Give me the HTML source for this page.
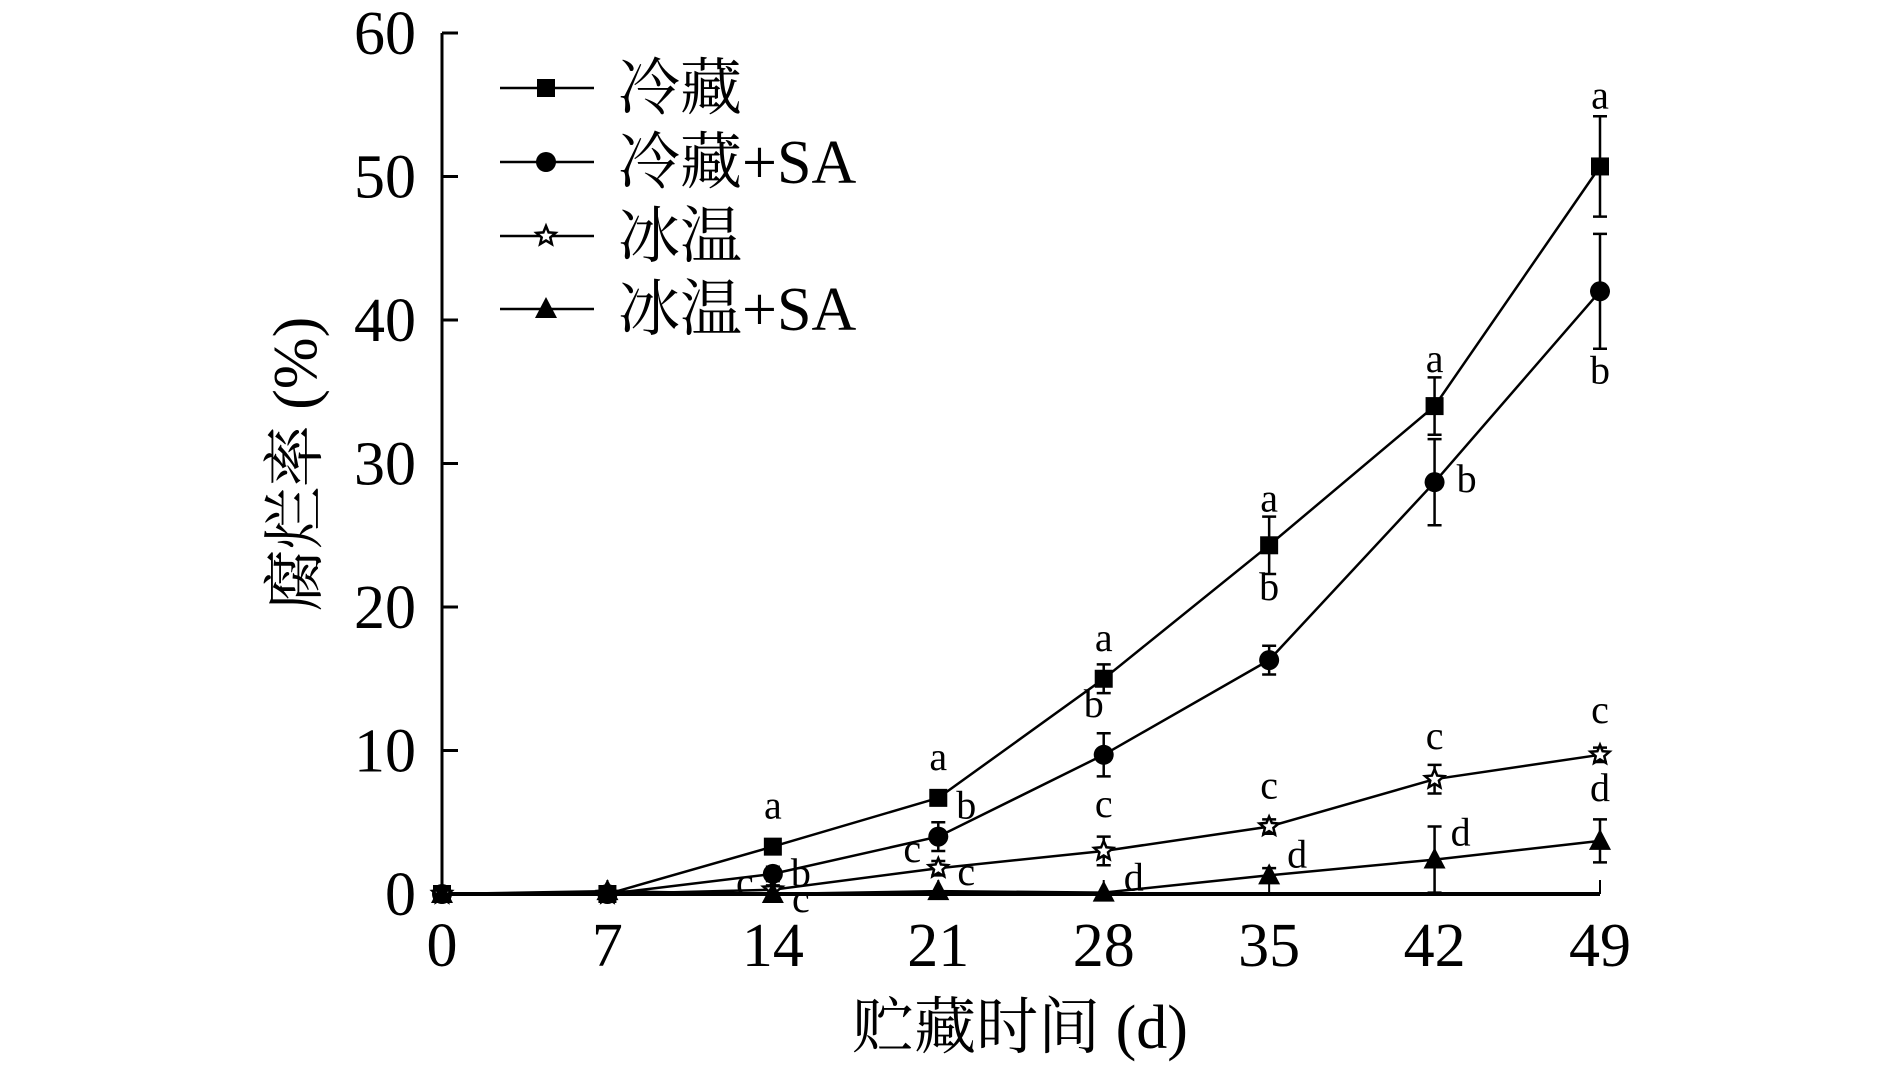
<!DOCTYPE html>
<html><head><meta charset="utf-8"><style>
html,body{margin:0;padding:0;background:#fff;}
svg{display:block;font-family:"Liberation Serif","Noto Serif CJK SC",serif;}
</style></head><body>
<svg id="chart" width="1890" height="1068" viewBox="0 0 1890 1068">
<g id="axes"></g>
<g id="series"></g>
<g id="legend"></g>
</svg>
<script>
const days = [0,7,14,21,28,35,42,49];
const yTicks = [0,10,20,30,40,50,60];
const names = ["冷藏","冷藏+SA","冰温","冰温+SA"];
const markers = ["square","circle","star","triangle"];
const vCold = [0,0,3.3,6.7,15,24.3,34,50.7];
const vColdSA = [0,0,1.4,4,9.7,16.3,28.7,42];
const vIce = [0,0,0.3,1.8,3,4.7,8,9.7];
const vIceSA = [0,0.2,0,0.2,0.1,1.3,2.4,3.7];
const eCold = [0,0,0.4,0.5,1,2,2,3.5];
const eColdSA = [0,0,0.5,1,1.5,1,3,4];
const eIce = [0,0,0.3,0.5,1,0.5,1,0.5];
const eIceSA = [0,0,0,0,0,0.5,2.3,1.5];
const letCold = ["","","a","a","a","a","a","a"];
const letColdSA = ["","","b","b","b","b","b","b"];
const letIce = ["","","c","c","c","c","c","c"];
const letIceSA = ["","","c","c","d","d","d","d"];
const values=[vCold,vColdSA,vIce,vIceSA], errs=[eCold,eColdSA,eIce,eIceSA], lets=[letCold,letColdSA,letIce,letIceSA];
const off=[
 [[0,0],[0,0],[0,-28],[0,-28],[0,-28],[0,-34],[0,-34],[0,-58]],
 [[0,0],[0,0],[28,12],[28,-18],[-10,-38],[0,-60],[32,10],[0,92]],
 [[0,0],[0,0],[-28,6],[-26,-6],[0,-34],[0,-28],[0,-30],[0,-32]],
 [[0,0],[0,0],[28,18],[28,-6],[30,-2],[28,-8],[26,-14],[0,-40]]];
const NS="http://www.w3.org/2000/svg";
const X0=442,X1=1600,Y0=894,Y60=33;
const x=d=>X0+(d-0)/(49-0)*(X1-X0);
const y=v=>Y0-v/60*(Y0-Y60);
function el(tag,attrs,parent,text){const e=document.createElementNS(NS,tag);for(const k in attrs)e.setAttribute(k,attrs[k]);if(text!==undefined)e.textContent=text;parent.appendChild(e);return e;}
const axes=document.getElementById('axes'),ser=document.getElementById('series'),leg=document.getElementById('legend');
let a=el('line',{x1:X0,y1:Y60,x2:X0,y2:Y0,stroke:'#000','stroke-width':3},axes);

a=el('line',{x1:X0,y1:Y0,x2:X1,y2:Y0,stroke:'#000','stroke-width':4},axes);

yTicks.forEach(t=>{
 let l=el('line',{x1:X0,y1:y(t),x2:X0+16,y2:y(t),stroke:'#000','stroke-width':3},axes);
 
 let tx=el('text',{x:416,y:y(t)+21,'text-anchor':'end','font-size':62},axes,String(t));
 
});
days.forEach(d=>{
 let l=el('line',{x1:x(d),y1:Y0,x2:x(d),y2:Y0-14,stroke:'#000','stroke-width':2},axes);
 
 let tx=el('text',{x:x(d),y:966,'text-anchor':'middle','font-size':62},axes,String(d));
 
});
let t=el('text',{x:1020,y:1048,'text-anchor':'middle','font-size':62},axes,'贮藏时间 (d)');

t=el('text',{x:0,y:0,'text-anchor':'middle','font-size':62,transform:'translate(316,464) rotate(-90)'},axes,'腐烂率 (%)');

function marker(kind,cx,cy,g){
 let m;
 if(kind==='square')m=el('rect',{x:cx-9,y:cy-9,width:18,height:18,fill:'#000'},g);
 else if(kind==='circle')m=el('circle',{cx:cx,cy:cy,r:10,fill:'#000'},g);
 else if(kind==='triangle')m=el('polygon',{points:`${cx},${cy-12} ${cx-11},${cy+9} ${cx+11},${cy+9}`,fill:'#000'},g);
 else{let p=[];for(let i=0;i<10;i++){const r=i%2?4.5:10,an=-Math.PI/2+i*Math.PI/5;p.push((cx+r*Math.cos(an)).toFixed(1)+','+(cy+r*Math.sin(an)).toFixed(1));}
  m=el('polygon',{points:p.join(' '),fill:'#fff',stroke:'#000','stroke-width':2.5},g);}
 return m;
}
values.forEach((vals,si)=>{
 const g=el('g',{},ser);
 
 const pts=vals.map((v,i)=>x(days[i]).toFixed(1)+','+y(v).toFixed(1)).join(' ');
 let pl=el('polyline',{points:pts,fill:'none',stroke:'#000','stroke-width':2.5},g);
 
 vals.forEach((v,i)=>{
  const e=errs[si][i];
  if(e>0){let eb=el('path',{d:`M${x(days[i])},${y(v+e)}V${y(v-e)}M${x(days[i])-7},${y(v+e)}h14M${x(days[i])-7},${y(v-e)}h14`,stroke:'#000','stroke-width':2.5,fill:'none'},g);
   }
  let m=marker(markers[si],x(days[i]),y(v),g);
  
  const L=lets[si][i];
  if(L){let lt=el('text',{x:x(days[i])+off[si][i][0],y:y(v)+off[si][i][1],'text-anchor':'middle','font-size':40},g,L);
   }
 });
});
const rows=[88,162,236,309];
names.forEach((n,i)=>{
 const g=el('g',{},leg);
 
 el('line',{x1:500,y1:rows[i],x2:594,y2:rows[i],stroke:'#000','stroke-width':2.5},g);
 marker(markers[i],546,rows[i],g);
 let tx=el('text',{x:618,y:rows[i]+21,'font-size':62},g,n);
 
});
</script>
</body></html>
